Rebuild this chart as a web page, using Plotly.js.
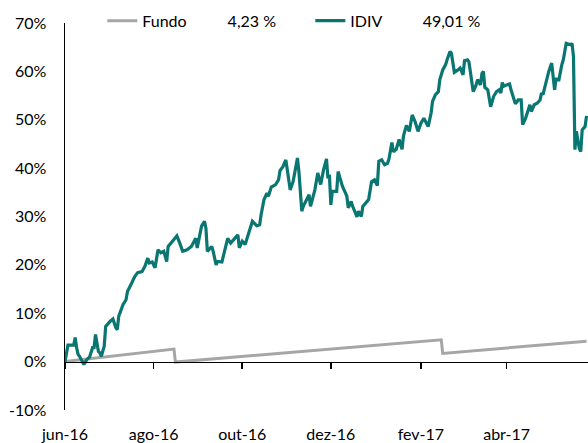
<!DOCTYPE html>
<html>
<head>
<meta charset="utf-8">
<script src="https://cdn.plot.ly/plotly-3.0.1.min.js"></script>
<style>html,body{margin:0;padding:0;background:#fff;}#chart{width:588px;height:443px;}</style>
</head>
<body>
<div id="chart"></div>
<script>
// ---- data ----
const idivDates = [
'2016-06-01','2016-06-03','2016-06-07','2016-06-08','2016-06-09','2016-06-10','2016-06-11','2016-06-14','2016-06-16','2016-06-18',
'2016-06-20','2016-06-21','2016-06-22','2016-06-24','2016-06-25','2016-06-26','2016-06-28','2016-06-29','2016-07-02','2016-07-04',
'2016-07-06','2016-07-07','2016-07-08','2016-07-11','2016-07-13','2016-07-14','2016-07-17','2016-07-19','2016-07-21','2016-07-24',
'2016-07-26','2016-07-28','2016-07-29','2016-07-31','2016-08-02','2016-08-04','2016-08-06','2016-08-08','2016-08-10','2016-08-11',
'2016-08-14','2016-08-16','2016-08-17','2016-08-19','2016-08-21','2016-08-24','2016-08-27','2016-08-30','2016-08-31','2016-09-03',
'2016-09-05','2016-09-06','2016-09-07','2016-09-10','2016-09-11','2016-09-13','2016-09-14','2016-09-17','2016-09-19','2016-09-21',
'2016-09-23','2016-09-26','2016-09-28','2016-09-29','2016-10-01','2016-10-03','2016-10-05','2016-10-08','2016-10-11','2016-10-13',
'2016-10-14','2016-10-16','2016-10-18','2016-10-19','2016-10-21','2016-10-24','2016-10-26','2016-10-27','2016-10-29','2016-10-31',
'2016-11-01','2016-11-03','2016-11-05','2016-11-08','2016-11-09','2016-11-11','2016-11-12','2016-11-14','2016-11-16','2016-11-17',
'2016-11-20','2016-11-22','2016-11-24','2016-11-26','2016-11-28','2016-11-29','2016-11-30','2016-12-01','2016-12-02','2016-12-05',
'2016-12-06','2016-12-08','2016-12-09','2016-12-12','2016-12-13','2016-12-15','2016-12-16','2016-12-19','2016-12-20','2016-12-22',
'2016-12-23','2016-12-27','2016-12-29','2016-12-31','2017-01-02','2017-01-03','2017-01-05','2017-01-07','2017-01-09','2017-01-10',
'2017-01-12','2017-01-13','2017-01-15','2017-01-17','2017-01-19','2017-01-20','2017-01-22','2017-01-24','2017-01-26','2017-01-28',
'2017-01-30','2017-02-01','2017-02-03','2017-02-06','2017-02-08','2017-02-09','2017-02-11','2017-02-13','2017-02-14','2017-02-16',
'2017-02-18','2017-02-19','2017-02-21','2017-02-22','2017-02-24','2017-02-26','2017-02-28','2017-03-02','2017-03-03','2017-03-05',
'2017-03-06','2017-03-07','2017-03-09','2017-03-11','2017-03-12','2017-03-14','2017-03-15','2017-03-16','2017-03-17','2017-03-19',
'2017-03-21','2017-03-23','2017-03-25','2017-03-27','2017-03-28','2017-03-29','2017-03-30','2017-04-01','2017-04-03','2017-04-04',
'2017-04-06','2017-04-07','2017-04-09','2017-04-11','2017-04-12','2017-04-14','2017-04-17','2017-04-18','2017-04-20','2017-04-22',
'2017-04-24','2017-04-25','2017-04-26','2017-04-28','2017-04-30','2017-05-02','2017-05-03','2017-05-04','2017-05-05','2017-05-07',
'2017-05-09','2017-05-10','2017-05-12','2017-05-14','2017-05-15','2017-05-16','2017-05-17','2017-05-18','2017-05-19','2017-05-21',
'2017-05-22','2017-05-23','2017-05-25','2017-05-26'
];
const idivValues = [
0.0,3.4,3.4,5.0,2.9,1.5,1.1,-0.6,0.4,1.0,
2.9,2.9,5.6,2.1,1.8,1.1,3.2,7.3,8.3,8.8,
7.0,6.6,9.4,11.8,12.8,14.5,16.3,17.6,18.4,18.6,
19.7,21.4,20.4,20.6,19.4,23.1,22.5,22.8,20.7,23.8,
24.9,25.5,26.0,24.5,22.8,23.1,23.8,25.5,23.5,28.0,
29.0,27.6,22.8,23.8,22.8,20.0,20.7,20.6,23.1,25.5,
24.5,25.5,26.2,23.5,24.9,24.2,26.2,29.0,28.1,28.3,
30.4,33.5,34.8,34.2,36.1,36.6,37.6,39.5,40.3,41.7,
39.7,35.5,37.2,42.1,39.3,31.1,32.1,33.5,34.5,32.1,
35.5,39.0,36.6,39.7,41.9,37.9,38.6,32.4,35.2,35.2,
39.3,37.2,36.2,34.2,31.8,33.1,32.1,29.9,31.1,30.0,
32.1,33.5,37.2,37.6,36.4,41.4,41.7,40.7,41.0,41.9,
45.3,43.4,43.9,45.9,43.9,46.7,48.8,47.6,51.0,49.6,
47.6,49.3,50.3,48.6,51.4,53.8,55.2,55.8,58.3,60.3,
61.4,62.4,64.1,63.7,59.8,60.2,60.7,59.3,62.2,62.4,
62.0,60.0,55.8,57.2,58.3,57.2,59.6,60.0,56.7,56.2,
52.7,54.8,55.8,56.2,55.5,57.7,56.9,57.2,57.4,56.2,
54.1,53.3,54.1,54.1,49.0,50.3,53.1,51.7,53.1,53.4,
54.1,55.5,55.2,57.9,60.0,61.7,58.9,56.2,58.4,58.3,
61.4,62.4,65.8,65.7,65.5,65.8,63.1,43.8,47.6,44.1,
43.4,47.9,48.6,50.8
];
const fundoDates = ['2016-06-01','2016-08-15','2016-08-16','2017-02-15','2017-02-16','2017-05-26'];
const fundoValues = [0.0, 2.6, -0.1, 4.5, 1.7, 4.23];

const seriesNames = ['Fundo', 'IDIV'];
const seriesTotals = ['4,23 %', '49,01 %'];

const tickDates = ['2016-06-01','2016-08-01','2016-10-01','2016-12-01','2017-02-01','2017-04-01'];
const tickLabels = ['jun-16','ago-16','out-16','dez-16','fev-17','abr-17'];
const yTickVals = [-10, 0, 10, 20, 30, 40, 50, 60, 70];
const yTickLabels = ['-10%','0%','10%','20%','30%','40%','50%','60%','70%'];
const yRange = [-10, 70];
const xRange = ['2016-06-01', '2017-05-27'];

// ---- drawing ----
const FONT = 'Lato, "Open Sans", sans-serif';
const gap = '\u00a0'.repeat(10);

const traces = [
  {x: fundoDates, y: fundoValues, type: 'scatter', mode: 'lines',
   name: seriesNames[0] + gap + seriesTotals[0],
   line: {color: '#a6a6a6', width: 3}},
  {x: idivDates, y: idivValues, type: 'scatter', mode: 'lines',
   name: seriesNames[1] + gap + seriesTotals[1],
   line: {color: '#0a7671', width: 3.2}},
  // invisible trace carrying the zero-level axis with ticks
  {x: [xRange[0]], y: [0], xaxis: 'x2', yaxis: 'y', mode: 'none', showlegend: false, hoverinfo: 'skip'}
];

const zeroPos = (0 - yRange[0]) / (yRange[1] - yRange[0]);

const layout = {
  width: 588, height: 443,
  margin: {l: 65, r: 0, t: 23, b: 33, pad: 0, autoexpand: false},
  paper_bgcolor: '#ffffff', plot_bgcolor: '#ffffff',
  font: {family: FONT, size: 16, color: '#000000'},
  showlegend: true,
  legend: {
    orientation: 'h', xref: 'container', yref: 'container',
    x: 0.174, xanchor: 'left', y: 0.953, yanchor: 'middle',
    entrywidth: 163, font: {family: FONT, size: 16, color: '#000'},
    bgcolor: 'rgba(0,0,0,0)', borderwidth: 0
  },
  xaxis: {
    type: 'date', range: xRange, automargin: false,
    tickmode: 'array', tickvals: tickDates, ticktext: tickLabels,
    showgrid: false, zeroline: false, showline: false, ticks: '',
    ticklabelstandoff: 13,
    tickfont: {family: FONT, size: 16, color: '#000'}
  },
  xaxis2: {
    type: 'date', range: xRange, overlaying: 'x', anchor: 'free', position: zeroPos,
    tickmode: 'array', tickvals: tickDates, showticklabels: false,
    ticks: 'outside', ticklen: 6, tickwidth: 1.5, tickcolor: '#000',
    showline: true, linecolor: '#000', linewidth: 1.5,
    showgrid: false, zeroline: false
  },
  yaxis: {
    range: yRange, automargin: false,
    tickmode: 'array', tickvals: yTickVals, ticktext: yTickLabels,
    showgrid: false, zeroline: false,
    showline: true, linecolor: '#000', linewidth: 1.5,
    ticks: '', ticklabelstandoff: 14,
    tickfont: {family: FONT, size: 16, color: '#000'}
  }
};

Plotly.newPlot('chart', traces, layout, {staticPlot: true, displayModeBar: false});
</script>
</body>
</html>
